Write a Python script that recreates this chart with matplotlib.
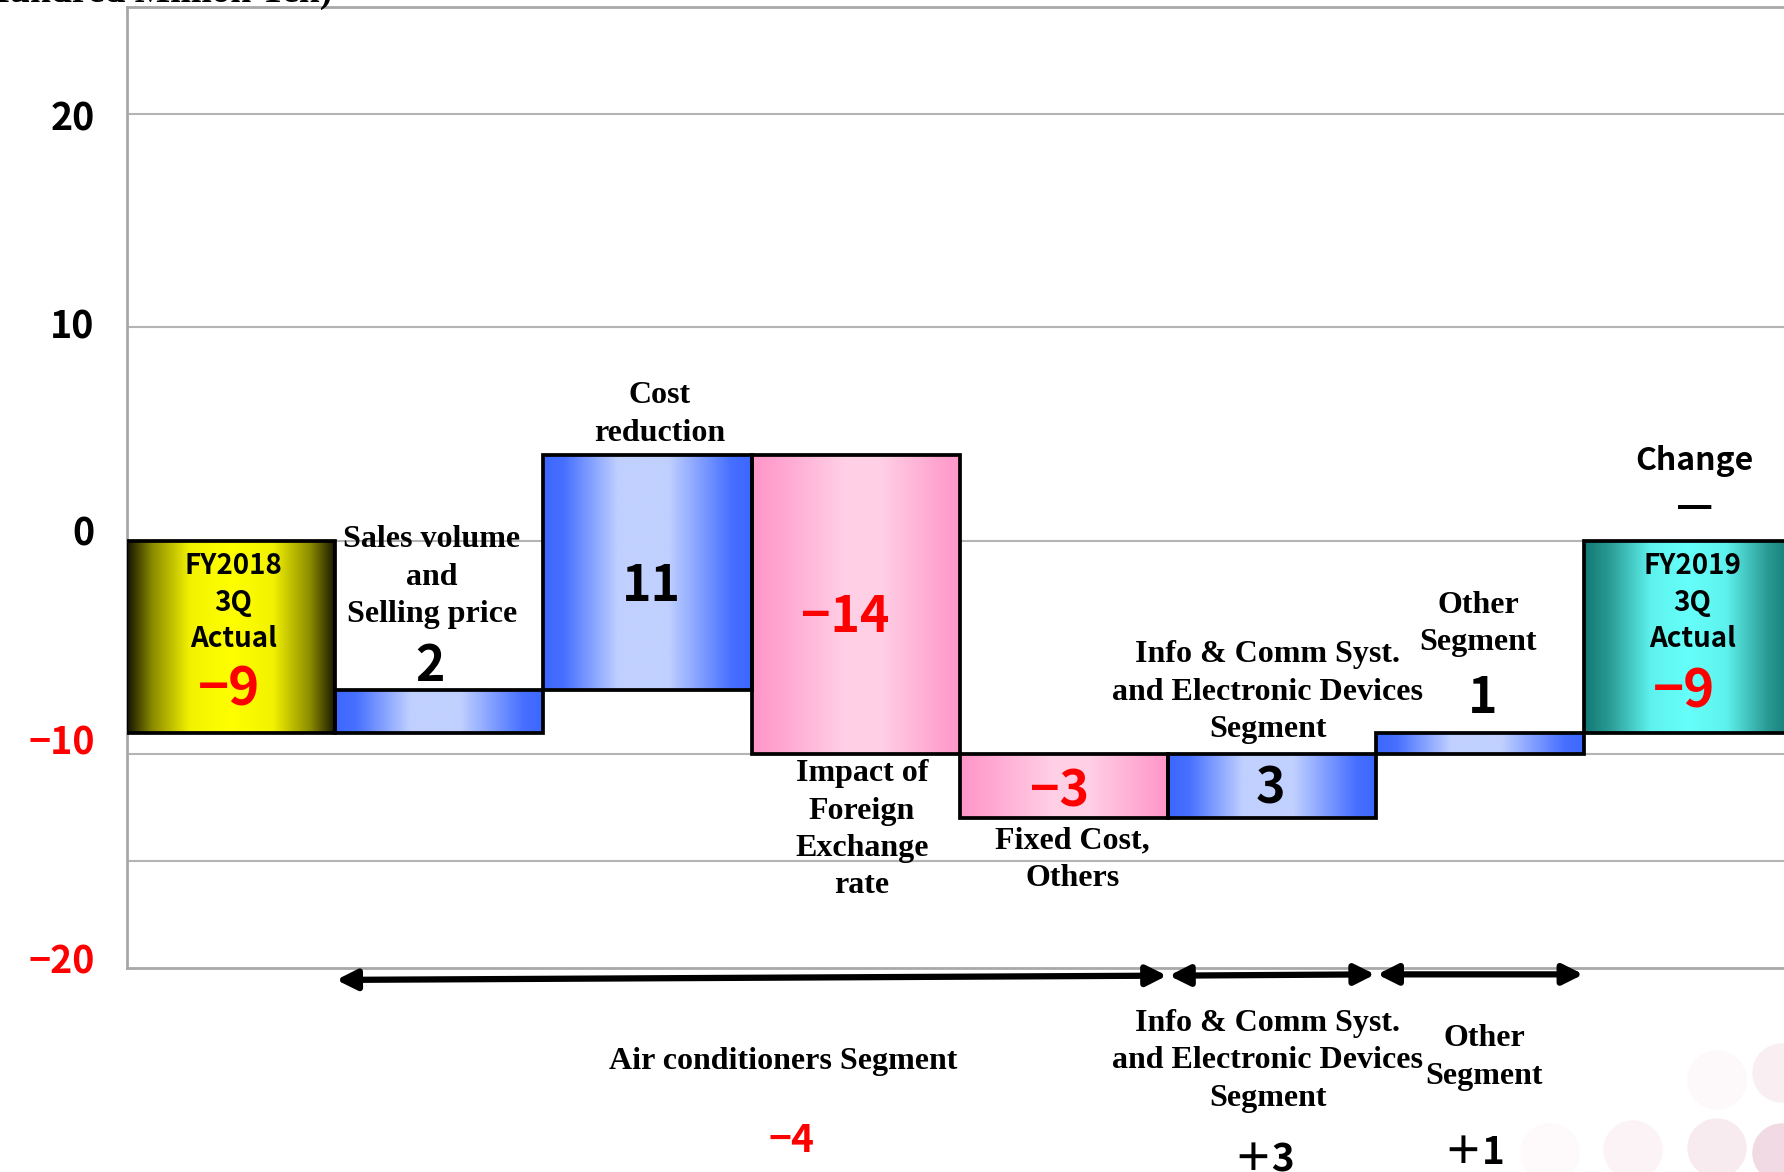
import numpy as np
import matplotlib
matplotlib.use("Agg")
import matplotlib.pyplot as plt
from matplotlib.colors import LinearSegmentedColormap
from matplotlib.patches import Rectangle, Ellipse
from matplotlib.transforms import blended_transform_factory

# Operating income bridge, FY2018 3Q -> FY2019 3Q (hundred million yen)
start_value = -9
end_value = -9
step_labels = ["Sales volume\nand\nSelling price", "Cost\nreduction",
               "Impact of\nForeign\nExchange\nrate", "Fixed Cost,\nOthers",
               "Info & Comm Syst.\nand Electronic Devices\nSegment", "Other\nSegment"]
step_values = [2, 11, -14, -3, 3, 1]
segment_names = ["Air conditioners Segment",
                 "Info & Comm Syst.\nand Electronic Devices\nSegment",
                 "Other\nSegment"]
segment_steps = [[0, 1, 2, 3], [4], [5]]
y_ticks = [20, 10, 0, -10, -20]
grid_lines = [20, 10, 0, -10, -15]

SERIF = "Liberation Serif"
SANS = ["Noto Sans CJK JP", "DejaVu Sans"]
RED = "#ff0000"
NOTO_SHIFT = -0.17  # Noto glyph boxes sit a little high when centred

BLUE = [(0, "#3d66ff"), (0.1, "#4770ff"), (0.36, "#c0d0ff"), (0.6, "#c0d0ff"),
        (0.9, "#4770ff"), (1, "#3d66ff")]
PINK = [(0, "#ff96c8"), (0.12, "#ffa3cf"), (0.45, "#ffd0e6"), (0.62, "#ffcfe5"),
        (0.9, "#ffa3cf"), (1, "#ff96c8")]
YELLOW = [(0, "#141400"), (0.12, "#8a8a00"), (0.3, "#f2f200"), (0.5, "#ffff00"),
          (0.7, "#f2f200"), (0.88, "#8a8a00"), (1, "#141400")]
TEAL = [(0, "#137873"), (0.12, "#2a9a94"), (0.32, "#5ef2ee"), (0.5, "#66fffa"),
        (0.68, "#5ef2ee"), (0.88, "#2a9a94"), (1, "#137873")]


def fmt(v, sign=False):
    if v < 0:
        return "\u2212" + str(abs(v))
    return ("+" if sign else "") + str(v)


def gradient_bar(ax, x0, y0, y1, stops, width=1.0):
    cmap = LinearSegmentedColormap.from_list("bar", stops)
    g = np.linspace(0, 1, 256).reshape(1, -1)
    lo, hi = min(y0, y1), max(y0, y1)
    ax.imshow(g, cmap=cmap, extent=(x0, x0 + width, lo, hi), aspect="auto",
              interpolation="bilinear", zorder=2)
    ax.add_patch(Rectangle((x0, lo), width, hi - lo, fill=False,
                           ec="black", lw=2.7, zorder=3))


def sans(ax, x, y, s, size, color="black", **kw):
    ax.text(x, y + NOTO_SHIFT, s, ha="center", va="center", fontsize=size,
            family=SANS, weight="bold", color=color, **kw)


def serif(ax, x, y, s, size=23):
    ax.text(x, y, s, ha="center", va="center", fontsize=size, family=SERIF,
            weight="bold", linespacing=1.38)


fig = plt.figure(figsize=(17.84, 11.72), dpi=100)
ax = fig.add_axes([0.0712, 0.1741, 0.9336, 0.8200])

for g in grid_lines:
    ax.axhline(g, color="#b4b4b4", lw=1.5, zorder=1)
for side in ["left", "top", "bottom"]:
    ax.spines[side].set_color("#a8a8a8")
    ax.spines[side].set_linewidth(2)
ax.spines["right"].set_visible(False)
ax.set_xticks([])
ax.set_yticks([])

# start / end totals
gradient_bar(ax, -0.5, 0, start_value, YELLOW)
gradient_bar(ax, 6.5, 0, end_value, TEAL)

# waterfall steps
level = start_value
for i, v in enumerate(step_values):
    gradient_bar(ax, i + 0.5, level, level + v, BLUE if v > 0 else PINK)
    level += v

ax.set_xlim(-0.5, 7.5)
ax.set_ylim(-20, 25)

# totals text
for x, year, v, vx, vy in [(0.01, "2018", start_value, -0.01, -6.8),
                           (7.02, "2019", end_value, 6.98, -6.9)]:
    sans(ax, x, -2.72, "FY" + year + "\n3Q\nActual", 20, linespacing=1.38)
    sans(ax, vx, vy, fmt(v), 38, color=RED)

# step descriptions and values
label_pos = [(0.965, -1.70), (2.06, 5.91), (3.03, -13.53), (4.04, -14.94),
             (4.98, -7.09), (5.99, -3.89)]
value_pos = [(0.955, -5.7), (2.02, -1.97), (2.95, -3.4), (3.98, -11.6),
             (4.99, -11.45), (6.01, -7.2)]
for lab, v, (lx, ly), (vx, vy) in zip(step_labels, step_values, label_pos, value_pos):
    serif(ax, lx, ly, lab)
    sans(ax, vx, vy, fmt(v), 36, color=RED if v < 0 else "black")

# overall change (a heavy dash when there is none)
change = end_value - start_value
sans(ax, 7.03, 3.9, "Change", 23)
sans(ax, 7.03, 1.6, "\u2501" if change == 0 else fmt(change, sign=True), 24)

# y labels
label_y = [19.9, 10.2, 0.5, -9.3, -19.55]
trans = blended_transform_factory(ax.transAxes, ax.transData)
for t, ty in zip(y_ticks, label_y):
    ax.text(-0.0195, ty + NOTO_SHIFT, fmt(t), transform=trans, ha="right",
            va="center", fontsize=27, family=SANS, weight="bold",
            color=RED if t < 0 else "black")

# segment brackets below the axis
arrow_y = [(-20.56, -20.36), (-20.36, -20.3), (-20.3, -20.3)]
seg_text = [(2.65, -24.4, 2.69, -27.9), (4.98, -24.35, 4.96, -28.8),
            (6.02, -24.2, 5.97, -28.45)]
for name, steps, (ya, yb), (tx, ty, nx, ny) in zip(segment_names, segment_steps,
                                                   arrow_y, seg_text):
    x0 = steps[0] + 0.5
    x1 = steps[-1] + 1.5
    ax.annotate("", xy=(x1 - 0.005, yb), xytext=(x0 + 0.005, ya),
                arrowprops=dict(arrowstyle="<|-|>", color="black", lw=4.5,
                                mutation_scale=30, shrinkA=0, shrinkB=0),
                annotation_clip=False)
    total = sum(step_values[s] for s in steps)
    serif(ax, tx, ty, name)
    sign = "\uff0b" if total > 0 else "\u2212"
    sans(ax, nx, ny, sign + str(abs(total)), 28,
         color=RED if total < 0 else "black")

fig.text(332 / 1784, 1 - 2 / 1172, "(Unit: Hundred Million Yen)", ha="right",
         va="baseline", fontsize=27, family=SERIF, weight="bold")

# faint decorative dots in the corner
for cx, cy, c in [(1550, 1153, "#fefafb"), (1633, 1150, "#fcf3f6"),
                  (1717, 1148, "#f8ebf0"), (1782, 1153, "#f1dae3"),
                  (1717, 1080, "#fdf8fa"), (1782, 1073, "#f9eff3")]:
    fig.add_artist(Ellipse((cx / 1784, 1 - cy / 1172), 58 / 1784, 58 / 1172,
                           transform=fig.transFigure, color=c, zorder=0))

fig.savefig("out.png", dpi=100)
